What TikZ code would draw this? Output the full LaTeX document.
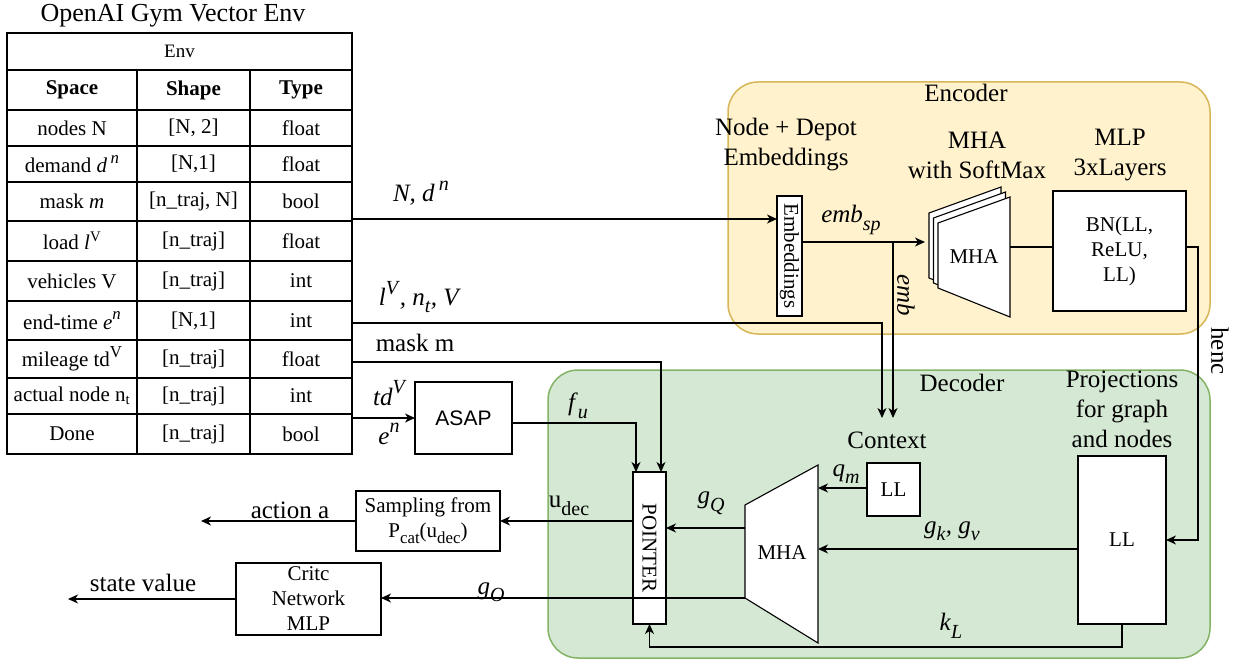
\documentclass[tikz,border=0pt]{standalone}
\usepackage{fontspec}
\usepackage{graphicx}
\setmainfont{Liberation Serif}
\newfontfamily\arialf{Liberation Sans}
\usetikzlibrary{arrows.meta,calc}
\definecolor{encfill}{HTML}{FFF2CC}
\definecolor{encdraw}{HTML}{D6B656}
\definecolor{decfill}{HTML}{D5E8D4}
\definecolor{decdraw}{HTML}{82B366}
\newcommand\bigf{\fontsize{25}{30}\selectfont}
\newcommand\midf{\fontsize{21}{25}\selectfont}
\newcommand\titf{\fontsize{26}{31}\selectfont}
\newcommand\sbs[1]{\raisebox{-0.3em}{\scalebox{0.8}{#1}}}
\newcommand\sps[1]{\raisebox{0.45em}{\scalebox{0.8}{#1}}}
\tikzset{
  every node/.style={inner sep=0pt, outer sep=0pt},
  box/.style={draw=black, fill=white, line width=1.2pt, align=center, font=\midf},
  lbl/.style={font=\bigf, align=center},
  cell/.style={font=\midf},
  conn/.style={line width=1.2pt, draw=black},
  arr/.style={conn, -{Stealth[length=10pt,width=9pt,inset=3pt]}},
  region/.style={line width=1.5pt, rounded corners=30pt},
  page/.style={draw=black, fill=white, line width=1.1pt, line join=miter},
  tline/.style={line width=1.3pt, draw=black},
}
\begin{document}
\begin{tikzpicture}[x=1pt,y=-1pt]
\useasboundingbox (0,0) rectangle (1253,663);

% ---------- regions ----------
\node[region, draw=encdraw, fill=encfill, minimum width=482pt, minimum height=252pt] (encoder) at (969,208) {};
\node[region, draw=decdraw, fill=decfill, minimum width=662pt, minimum height=288pt] (decoder) at (879,514) {};

% ---------- table ----------
\node[font=\titf] (title) at (173,16) {OpenAI Gym Vector Env};
\draw[tline] (7,33) rectangle (352,454);
\foreach \yy in {70,110,146,182,221,261,301,340,378,414}
  \draw[tline] (7,\yy) -- (352,\yy);
\draw[tline] (137,70) -- (137,454);
\draw[tline] (250,70) -- (250,454);
\node[font=\fontsize{19}{23}\selectfont] (env) at (179.5,51.5) {Env};
\node[cell, font=\midf\bfseries] (h1) at (72,90) {Space};
\node[cell, font=\midf\bfseries] (h2) at (193.5,90) {Shape};
\node[cell, font=\midf\bfseries] (h3) at (301,90) {Type};
\node[cell] (a1) at (72,128) {nodes N};
\node[cell] (a2) at (193.5,128) {[N, 2]};
\node[cell] (a3) at (301,128) {float};
\node[cell] (b1) at (72,164) {demand \textit{d}\,\sps{\textit{n}}};
\node[cell] (b2) at (193.5,164) {[N,1]};
\node[cell] (b3) at (301,164) {float};
\node[cell] (c1) at (72,201.5) {mask \textit{m}};
\node[cell] (c2) at (193.5,201.5) {[n\_traj, N]};
\node[cell] (c3) at (301,201.5) {bool};
\node[cell] (d1) at (72,241) {load \textit{l}\textsuperscript{V}};
\node[cell] (d2) at (193.5,241) {[n\_traj]};
\node[cell] (d3) at (301,241) {float};
\node[cell] (e1) at (72,281) {vehicles V};
\node[cell] (e2) at (193.5,281) {[n\_traj]};
\node[cell] (e3) at (301,281) {int};
\node[cell] (f1) at (72,320.5) {end-time \textit{e}\sps{\textit{n}}};
\node[cell] (f2) at (193.5,320.5) {[N,1]};
\node[cell] (f3) at (301,320.5) {int};
\node[cell] (g1) at (72,359) {mileage td\sps{V}};
\node[cell] (g2) at (193.5,359) {[n\_traj]};
\node[cell] (g3) at (301,359) {float};
\node[cell] (i1) at (72,396) {actual node n\textsubscript{t}};
\node[cell] (i2) at (193.5,396) {[n\_traj]};
\node[cell] (i3) at (301,396) {int};
\node[cell] (j1) at (72,434) {Done};
\node[cell] (j2) at (193.5,434) {[n\_traj]};
\node[cell] (j3) at (301,434) {bool};

\coordinate (tN) at (352,219);
\coordinate (tLV) at (352,323);
\coordinate (tMask) at (352,362);
\coordinate (tAsap) at (352,418);

% ---------- encoder ----------
\node[lbl] (enclbl) at (966,93) {Encoder};
\node[lbl] (ndlbl) at (786,145) {Node + Depot\\Embeddings};
\node[lbl] (mhalbl) at (977,155) {MHA\\with SoftMax};
\node[lbl] (mlplbl) at (1120,155) {MLP\\3xLayers};
\node[box, minimum width=25pt, minimum height=120pt] (emb) at (789.5,256) {\rotatebox{-90}{Embeddings}};
\foreach \dx/\dy in {9/10,4.5/5,0/0}
  \draw[page] (938-\dx,223-\dy) -- (1010-\dx,197-\dy) -- (1010-\dx,317-\dy) -- (938-\dx,288-\dy) -- cycle;
\node[font=\midf] (mhaE) at (974,257) {MHA};
\coordinate (mhaEin) at (925,242);
\coordinate (mhaEout) at (1010,247);
\node[box, minimum width=133pt, minimum height=120pt] (mlp) at (1119.5,251) {BN(LL,\\ReLU,\\LL)};

% ---------- decoder ----------
\node[lbl] (declbl) at (962,383) {Decoder};
\node[lbl] (ctx) at (887,440) {Context};
\coordinate (ctxA) at (882,418);
\coordinate (ctxB) at (893,418);
\node[lbl] (projlbl) at (1122,409) {Projections\\for graph\\and nodes};
\node[box, minimum width=53pt, minimum height=53pt] (llS) at (893.5,489.5) {LL};
\node[box, minimum width=88pt, minimum height=168pt] (llB) at (1122,540) {LL};
\draw[page] (745,505) -- (818,465) -- (818,643) -- (745,598) -- cycle;
\node[font=\midf] (mhaD) at (782,553) {MHA};
\coordinate (mhaDq) at (818,488);
\coordinate (mhaDk) at (818,549);
\coordinate (mhaDgq) at (745,528);
\coordinate (mhaDgo) at (745,598);
\node[box, minimum width=33pt, minimum height=152pt] (ptr) at (649.5,548) {\rotatebox{-90}{POINTER}};
\coordinate (ptrA) at (636,472);
\coordinate (ptrB) at (661,472);

% ---------- outside boxes ----------
\node[box, font=\midf\arialf, minimum width=97pt, minimum height=72pt] (asap) at (463.5,418) {ASAP};
\node[box, minimum width=144pt, minimum height=60pt] (samp) at (428,521) {Sampling from\\P\sbs{cat}(u\sbs{dec})};
\node[box, minimum width=145pt, minimum height=72pt] (critic) at (308.5,599) {Critc\\Network\\MLP};
\coordinate (actEnd) at (201,521);
\coordinate (stEnd) at (68,599);

% ---------- connectors ----------
\draw[arr] (tN) -- (emb.west |- tN);
\draw[arr] (tLV) -| (ctxA);
\draw[arr] (tMask) -| (ptrB);
\draw[arr] (tAsap) -- (asap.west |- tAsap);
\draw[arr] ($(asap.east)+(0,5)$) -| (ptrA);
\coordinate (br) at (893,242);
\draw[arr] (emb.east |- br) -- (mhaEin);
\draw[arr] (br) -- (ctxB);
\draw[conn] (mhaEout) -- (mlp.west |- mhaEout);
\draw[arr] ($(mlp.east)+(0,-4)$) -- ++(12,0) |- (llB.east);
\draw[arr] (llS.west |- mhaDq) -- (mhaDq);
\draw[arr] (llB.west |- mhaDk) -- (mhaDk);
\draw[arr] (mhaDgq) -- (ptr.east |- mhaDgq);
\draw[arr] (mhaDgo) -- (critic.east |- mhaDgo);
\draw[arr] (llB.south) -- ++(0,23) -| (ptr.south);
\draw[arr] (ptr.west |- samp.east) -- (samp.east);
\draw[arr, line width=2pt] (samp.west) -- (actEnd);
\draw[arr] (critic.west) -- (stEnd);

% ---------- connector labels ----------
\node[lbl] (lN) at (421,193) {\textit{N, d}\,\sps{\textit{n}}};
\node[lbl] (lLV) at (420,297) {\textit{l}\sps{\textit{V}}\textit{, n}\sbs{\textit{t}}\textit{, V}};
\node[lbl] (lMask) at (415,343) {mask m};
\node[lbl] (lTd) at (390,393) {\textit{td}\sps{\textit{V}}};
\node[lbl] (lEn) at (389,434) {\textit{e}\sps{\textit{n}}};
\node[lbl] (lFu) at (578,406) {\textit{f}\sbs{\textit{u}}};
\node[lbl] (lEmbsp) at (851,220) {\textit{emb}\sbs{\textit{sp}}};
\node[lbl, rotate=-90] (lEmb) at (906,295) {\textit{emb}};
\node[lbl, rotate=-90] (lHenc) at (1220,351) {henc};
\node[lbl] (lQm) at (846,474) {\textit{q}\sbs{\textit{m}}};
\node[lbl] (lGk) at (952,531) {\textit{g}\sbs{\textit{k}}\textit{, g}\sbs{\textit{v}}};
\node[lbl] (lGq) at (711,503) {\textit{g}\sbs{\textit{Q}}};
\node[lbl] (lGo) at (491,592) {\textit{g}\sbs{\textit{O}}};
\node[lbl] (lKl) at (951,626) {\textit{k}\sbs{\textit{L}}};
\node[lbl] (lUdec) at (569,506) {u\sbs{dec}};
\node[lbl] (lAct) at (290,510) {action a};
\node[lbl] (lState) at (143,583) {state value};
\end{tikzpicture}
\end{document}
